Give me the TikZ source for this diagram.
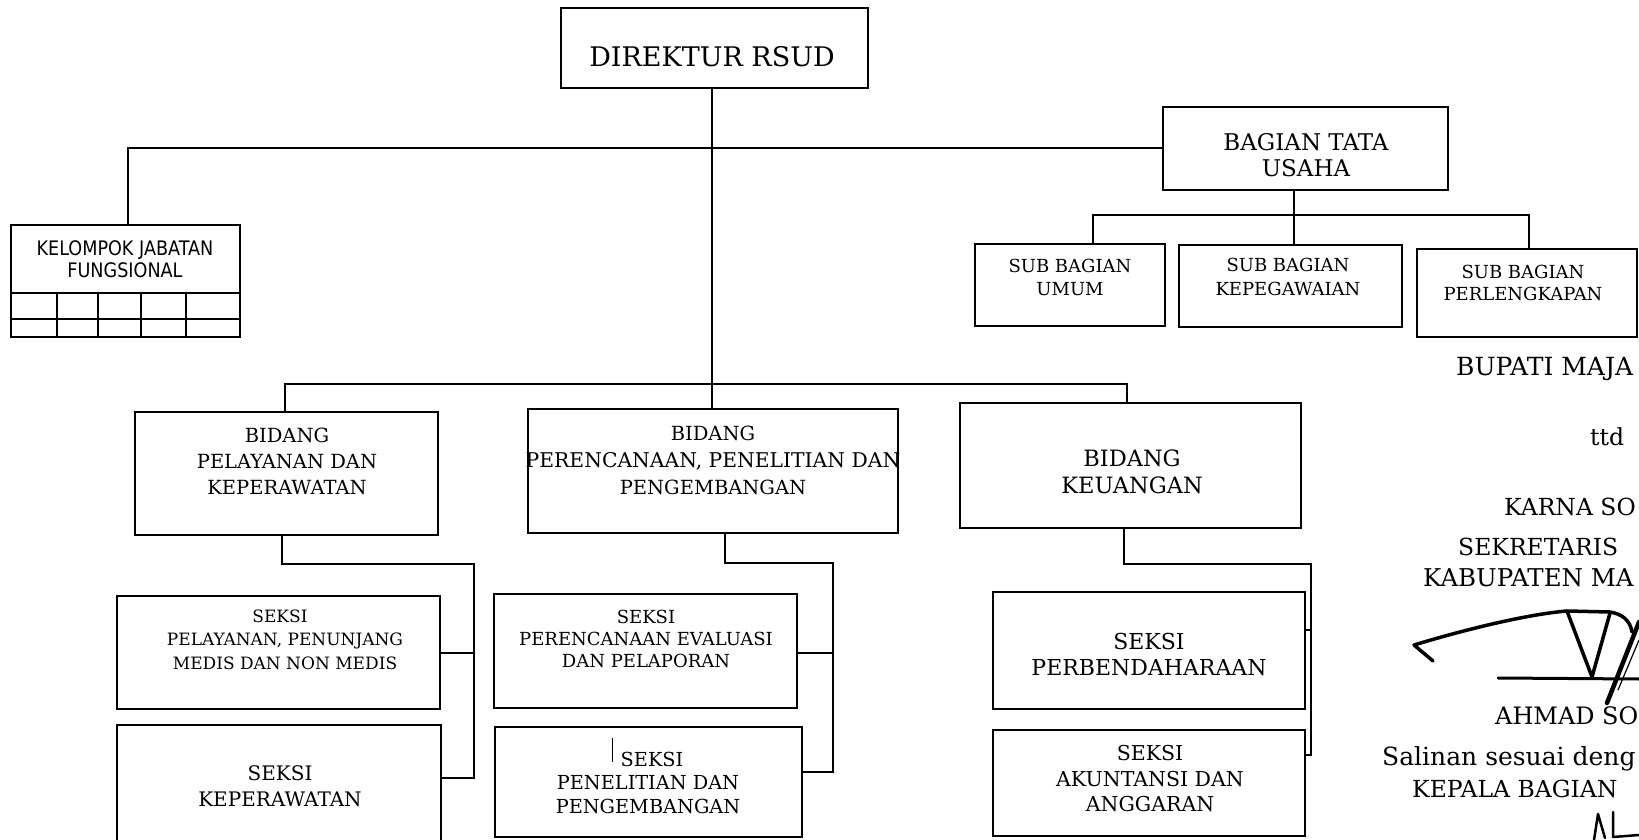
\documentclass[tikz,border=0pt]{standalone}
\usepackage{fontspec}
\setmainfont{DejaVu Serif}
\newfontfamily\kfont[FakeStretch=0.88]{DejaVu Sans}
\usetikzlibrary{fit}
\begin{document}
\begin{tikzpicture}[x=1pt,y=-1pt,
  box/.style={draw, line width=1.8pt, inner sep=0pt, rectangle},
  wire/.style={line width=1.8pt},
  txt/.style={inner sep=0pt, anchor=base},
  fs/.style={font=\fontsize{#1}{#1}\selectfont},
  ink/.style={line width=3.5pt, line cap=round, line join=round}]
\useasboundingbox[fill=white] (0,0) rectangle (1639,840);

% ---------- boxes ----------
\node[box, fit={(561,8)(868,88)}]     (dir)   {};
\node[box, fit={(1163,107)(1448,190)}] (bag)  {};
\node[box, fit={(11,225)(240,337)}]   (kel)   {};
\node[box, fit={(975,244)(1165,326)}] (umum)  {};
\node[box, fit={(1179,245)(1402,327)}] (kepeg) {};
\node[box, fit={(1417,249)(1637,337)}] (perl) {};
\node[box, fit={(135,412)(438,535)}]  (bidPel) {};
\node[box, fit={(528,409)(898,533)}]  (bidPer) {};
\node[box, fit={(960,403)(1301,528)}] (bidKeu) {};
\node[box, fit={(117,596)(440,709)}]  (sPel) {};
\node[box, fit={(117,725)(441,850)}]  (sKep) {};
\node[box, fit={(494,594)(797,708)}]  (sEval) {};
\node[box, fit={(495,727)(802,837)}]  (sPen) {};
\node[box, fit={(993,592)(1305,709)}] (sBen) {};
\node[box, fit={(993,730)(1305,836)}] (sAku) {};

% grid under the functional group
\draw[wire] (kel.west |- 0,293) -- (kel.east |- 0,293);
\draw[wire] (kel.west |- 0,319) -- (kel.east |- 0,319);
\foreach \gx in {57,98,141,186}
  \draw[wire] (\gx,293) -- (\gx,337);

% ---------- junction points ----------
\coordinate (jK) at (128,148);
\coordinate (jM) at (712,384);
\coordinate (jL) at (285,384);
\coordinate (jR) at (1127,384);
\coordinate (jB) at (1294,215);
\coordinate (jU) at (1093,215);
\coordinate (jP) at (1529,215);
\coordinate (c1a) at (282,564);
\coordinate (c1b) at (474,564);
\coordinate (c1d) at (474,778);
\coordinate (c1c) at (474,653);
\coordinate (c2a) at (725,563);
\coordinate (c2b) at (833,563);
\coordinate (c2c) at (833,653);
\coordinate (c2d) at (833,772);
\coordinate (c3a) at (1124,564);
\coordinate (c3b) at (1311,564);
\coordinate (c3c) at (1311,630);
\coordinate (c3d) at (1311,755);

% ---------- connectors ----------
\draw[wire] (dir.south -| jM) -- (jM |- bidPer.north);
\draw[wire] (kel.north -| jK) -- (jK) -- (jK -| bag.west);
\draw[wire] (jL |- bidPel.north) -- (jL) -- (jR) -- (jR |- bidKeu.north);
\draw[wire] (bag.south -| jB) -- (jB |- kepeg.north);
\draw[wire] (jU |- umum.north) -- (jU) -- (jP) -- (jP |- perl.north);

\draw[wire] (c1a |- bidPel.south) -- (c1a) -- (c1b) -- (c1d) -- (c1d -| sKep.east);
\draw[wire] (c1c) -- (c1c -| sPel.east);
\draw[wire] (c2a |- bidPer.south) -- (c2a) -- (c2b) -- (c2d) -- (c2d -| sPen.east);
\draw[wire] (c2c) -- (c2c -| sEval.east);
\draw[wire] (c3a |- bidKeu.south) -- (c3a) -- (c3b) -- (c3d) -- (c3d -| sAku.east);
\draw[wire] (c3c) -- (c3c -| sBen.east);

% ---------- box texts ----------
\node[txt, fs=27] (tDir) at (712,67) {DIREKTUR RSUD};

\node[txt, fs=23] (tBag1) at (1306,150) {BAGIAN TATA};
\node[txt, fs=23] (tBag2) at (1306,176) {USAHA};

\node[txt, fs=18] (tUm1) at (1070,272) {SUB BAGIAN};
\node[txt, fs=18] (tUm2) at (1070,295) {UMUM};
\node[txt, fs=18] (tKp1) at (1288,271) {SUB BAGIAN};
\node[txt, fs=18] (tKp2) at (1288,295) {KEPEGAWAIAN};
\node[txt, fs=18] (tPl1) at (1523,278) {SUB BAGIAN};
\node[txt, fs=18] (tPl2) at (1523,300) {PERLENGKAPAN};

\node[txt, font=\kfont\fontsize{20}{20}\selectfont] (tKl1) at (125,255) {KELOMPOK JABATAN};
\node[txt, font=\kfont\fontsize{20}{20}\selectfont] (tKl2) at (125,277) {FUNGSIONAL};

\node[txt, fs=19.5] (tBp1) at (287,442) {BIDANG};
\node[txt, fs=19.5] (tBp2) at (287,468) {PELAYANAN DAN};
\node[txt, fs=19.5] (tBp3) at (287,494) {KEPERAWATAN};

\node[txt, fs=19.5] (tBr1) at (713,440) {BIDANG};
\node[txt, fs=20.3] (tBr2) at (713,467) {PERENCANAAN, PENELITIAN DAN};
\node[txt, fs=19.5] (tBr3) at (713,494) {PENGEMBANGAN};

\node[txt, fs=22.5] (tBk1) at (1132,466) {BIDANG};
\node[txt, fs=22.5] (tBk2) at (1132,493) {KEUANGAN};

\node[txt, fs=17] (tSp1) at (280,622) {SEKSI};
\node[txt, fs=17] (tSp2) at (285,645) {PELAYANAN, PENUNJANG};
\node[txt, fs=17] (tSp3) at (285,669) {MEDIS DAN NON MEDIS};

\node[txt, fs=20] (tSk1) at (280,780) {SEKSI};
\node[txt, fs=20] (tSk2) at (280,806) {KEPERAWATAN};

\node[txt, fs=18] (tSe1) at (646,623) {SEKSI};
\node[txt, fs=18] (tSe2) at (646,645) {PERENCANAAN EVALUASI};
\node[txt, fs=18] (tSe3) at (646,667) {DAN PELAPORAN};

\draw[line width=0.8pt] (612,738) -- (612,762);
\node[txt, fs=19.3] (tSn1) at (652,766) {SEKSI};
\node[txt, fs=19.3] (tSn2) at (648,789) {PENELITIAN DAN};
\node[txt, fs=19.3] (tSn3) at (648,813) {PENGEMBANGAN};

\node[txt, fs=22] (tSb1) at (1149,649) {SEKSI};
\node[txt, fs=22] (tSb2) at (1149,675) {PERBENDAHARAAN};

\node[txt, fs=20.5] (tSa1) at (1150,760) {SEKSI};
\node[txt, fs=20.5] (tSa2) at (1150,786) {AKUNTANSI DAN};
\node[txt, fs=20.5] (tSa3) at (1150,811) {ANGGARAN};

% ---------- signature block ----------
\begin{scope}[every node/.style={inner sep=0pt, anchor=base west}]
\node[fs=25] (r1) at (1456,375) {BUPATI MAJA};
\node[fs=23.5] (r2) at (1590,445) {ttd};
\node[fs=23.5] (r3) at (1504,515) {KARNA SO};
\node[fs=23.5] (r4) at (1458,555) {SEKRETARIS};
\node[fs=24.5] (r5) at (1423,586) {KABUPATEN MA};
\node[fs=24] (r6) at (1495,724) {AHMAD SO};
\node[fs=25] (r7) at (1382,765) {Salinan sesuai deng};
\node[fs=23.5] (r8) at (1412,797) {KEPALA BAGIAN};
\end{scope}

% handwritten strokes
\draw[ink] (1433,661) -- (1414,645) .. controls (1470,628) and (1530,614) .. (1567,611)
  -- (1610,612) .. controls (1622,614) and (1630,620) .. (1632,632);
\draw[ink] (1567,611) -- (1592,677) -- (1610,613);
\draw[ink, line width=3pt] (1498,678) -- (1639,679);
\draw[ink, line width=4.5pt] (1607,703) -- (1639,622);
\draw[ink, line width=1.2pt] (1618,690) -- (1639,640);
\draw[ink, line width=2.5pt] (1594,840) -- (1598,814) -- (1605,838);
\draw[ink, line width=2.5pt] (1613,812) -- (1613,837) -- (1639,835);
\end{tikzpicture}
\end{document}
